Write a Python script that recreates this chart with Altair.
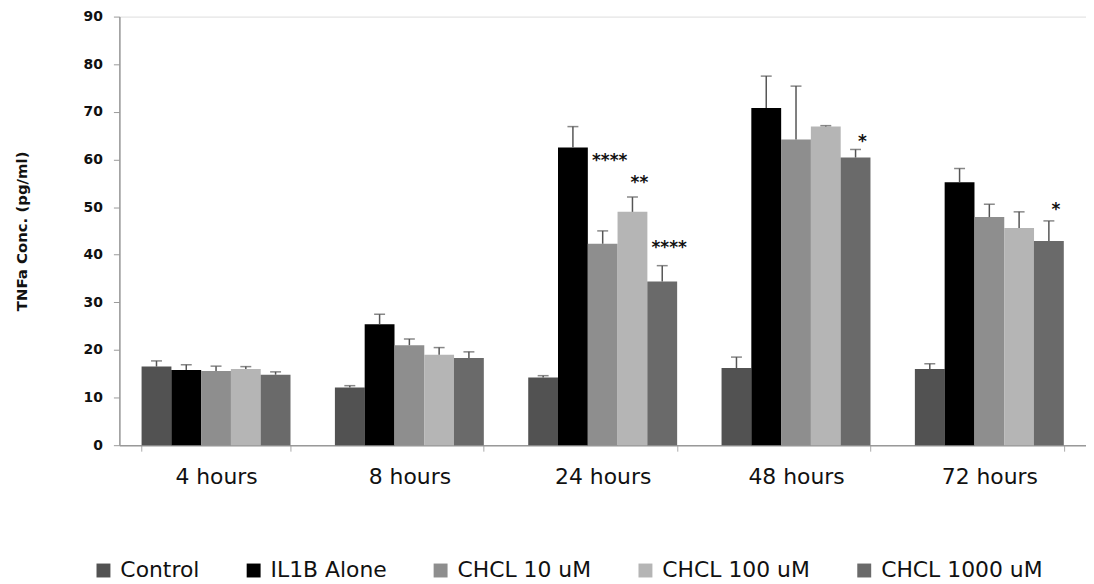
import altair as alt
import pandas as pd

times = ["4 hours", "8 hours", "24 hours", "48 hours", "72 hours"]
groups = ["Control", "IL1B Alone", "CHCL 10 uM", "CHCL 100 uM", "CHCL 1000 uM"]
colors = ["#525252", "#000000", "#8e8e8e", "#b5b5b5", "#6a6a6a"]

# mean values per group, in order of times
means = {
    "Control":      [16.5, 12.1, 14.2, 16.2, 16.0],
    "IL1B Alone":   [15.8, 25.4, 62.5, 70.8, 55.2],
    "CHCL 10 uM":   [15.6, 21.0, 42.3, 64.2, 47.9],
    "CHCL 100 uM":  [16.0, 19.0, 49.0, 66.9, 45.6],
    "CHCL 1000 uM": [14.8, 18.3, 34.4, 60.4, 42.9],
}
# top of the upper error whisker
err_top = {
    "Control":      [17.7, 12.5, 14.6, 18.5, 17.1],
    "IL1B Alone":   [16.9, 27.5, 66.9, 77.5, 58.1],
    "CHCL 10 uM":   [16.6, 22.3, 45.0, 75.4, 50.6],
    "CHCL 100 uM":  [16.5, 20.5, 52.1, 67.1, 49.0],
    "CHCL 1000 uM": [15.4, 19.6, 37.7, 62.1, 47.1],
}
# significance markers
star_time = ["24 hours", "24 hours", "24 hours", "48 hours", "72 hours"]
star_group = ["CHCL 10 uM", "CHCL 100 uM", "CHCL 1000 uM", "CHCL 1000 uM", "CHCL 1000 uM"]
star_text = ["****", "**", "****", "*", "*"]
star_y = [60.6, 55.8, 42.3, 64.6, 50.2]

rows = []
for g in groups:
    for i, t in enumerate(times):
        rows.append({"time": t, "group": g, "value": means[g][i], "err": err_top[g][i]})
df = pd.DataFrame(rows)
stars = pd.DataFrame({"time": star_time, "group": star_group, "label": star_text, "y": star_y})

FONT = "DejaVu Sans"

xenc = alt.X("time:N", sort=times, title=None,
             scale=alt.Scale(paddingInner=0.23, paddingOuter=0.115),
             axis=alt.Axis(labelAngle=0, labelFontSize=22, labelColor="#111", labelFont=FONT,
                           labelPadding=16, tickBand="extent", tickSize=6, tickColor="#aaa",
                           domainColor="#999", domainWidth=1.5))
xoff = alt.XOffset("group:N", sort=groups, scale=alt.Scale(paddingInner=0, paddingOuter=0))
yenc = alt.Y("value:Q", title="TNFa Conc. (pg/ml)",
             scale=alt.Scale(domain=[0, 90], nice=False),
             axis=alt.Axis(values=list(range(0, 91, 10)), grid=False, labelFontSize=14,
                           labelFontWeight="bold", labelFont=FONT, labelColor="#111",
                           titleFont=FONT, titleFontSize=15, titleFontWeight="bold",
                           titleColor="#111", titlePadding=54, labelPadding=11,
                           tickSize=6, tickColor="#999", domainColor="#999", domainWidth=1.5))

base = alt.Chart(df)

bars = base.mark_bar(size=30).encode(
    x=xenc, xOffset=xoff, y=yenc,
    color=alt.Color("group:N", sort=groups, scale=alt.Scale(domain=groups, range=colors),
                    legend=alt.Legend(title=None, orient="none", direction="horizontal",
                                      legendX=-27, legendY=546, symbolType="square",
                                      symbolSize=196, symbolStrokeWidth=0,
                                      labelFontSize=22, labelFont=FONT, labelColor="#111",
                                      labelLimit=400,
                                      columnPadding=43, padding=0, labelOffset=6)),
)

whisker = base.mark_rule(color="#555", strokeWidth=1.5).encode(
    x=alt.X("time:N", sort=times), xOffset=xoff, y="value:Q", y2="err:Q")

caps = base.mark_tick(color="#555", thickness=1.5, size=11).encode(
    x=alt.X("time:N", sort=times), xOffset=xoff, y="err:Q")

star_marks = alt.Chart(stars).mark_text(font=FONT, fontSize=17, fontWeight="bold",
                                        color="#111", dx=7, baseline="middle", dy=4).encode(
    x=alt.X("time:N", sort=times), xOffset=alt.XOffset("group:N", sort=groups),
    y="y:Q", text="label:N")

chart = alt.layer(bars, whisker, caps, star_marks).properties(
    width=972, height=431,
    autosize=alt.AutoSizeParams(type="none"),
    padding={"left": 112, "top": 7, "right": 0, "bottom": 150},
).configure_view(stroke=None).configure(font=FONT)

chart.save("out.html", embed_options={"renderer": "svg", "actions": False})
